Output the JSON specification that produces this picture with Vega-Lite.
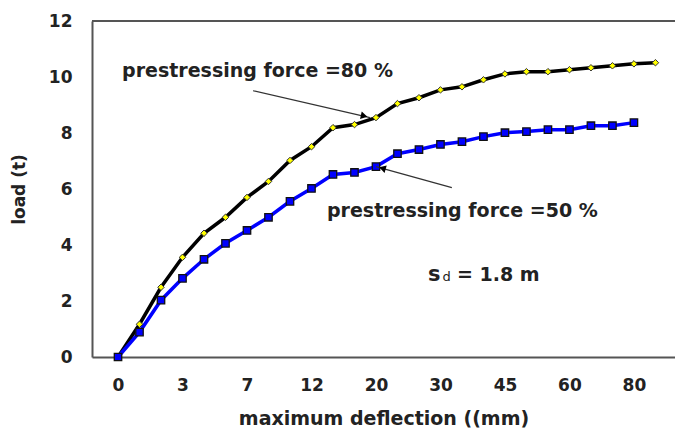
{
  "$schema": "https://vega.github.io/schema/vega-lite/v6.json",
  "width": 583,
  "height": 336,
  "autosize": {"type": "none"},
  "padding": {"left": 92, "top": 21, "right": 0, "bottom": 74},
  "background": "#ffffff",
  "config": {"view": {"stroke": null}, "font": "DejaVu Sans"},
  "datasets": {
    "curves": [
      {"reading": 0, "force": "80 %", "load": 0},
      {"reading": 1, "force": "80 %", "load": 1.17},
      {"reading": 2, "force": "80 %", "load": 2.49},
      {"reading": 3, "force": "80 %", "load": 3.56},
      {"reading": 4, "force": "80 %", "load": 4.42},
      {"reading": 5, "force": "80 %", "load": 4.99},
      {"reading": 6, "force": "80 %", "load": 5.70},
      {"reading": 7, "force": "80 %", "load": 6.27},
      {"reading": 8, "force": "80 %", "load": 7.02},
      {"reading": 9, "force": "80 %", "load": 7.51},
      {"reading": 10, "force": "80 %", "load": 8.19},
      {"reading": 11, "force": "80 %", "load": 8.30},
      {"reading": 12, "force": "80 %", "load": 8.55},
      {"reading": 13, "force": "80 %", "load": 9.05},
      {"reading": 14, "force": "80 %", "load": 9.26},
      {"reading": 15, "force": "80 %", "load": 9.54},
      {"reading": 16, "force": "80 %", "load": 9.65},
      {"reading": 17, "force": "80 %", "load": 9.90},
      {"reading": 18, "force": "80 %", "load": 10.11},
      {"reading": 19, "force": "80 %", "load": 10.19},
      {"reading": 20, "force": "80 %", "load": 10.19},
      {"reading": 21, "force": "80 %", "load": 10.26},
      {"reading": 22, "force": "80 %", "load": 10.33},
      {"reading": 23, "force": "80 %", "load": 10.40},
      {"reading": 24, "force": "80 %", "load": 10.47},
      {"reading": 25, "force": "80 %", "load": 10.51},
      {"reading": 0, "force": "50 %", "load": 0},
      {"reading": 1, "force": "50 %", "load": 0.89},
      {"reading": 2, "force": "50 %", "load": 2.03},
      {"reading": 3, "force": "50 %", "load": 2.81},
      {"reading": 4, "force": "50 %", "load": 3.49},
      {"reading": 5, "force": "50 %", "load": 4.06},
      {"reading": 6, "force": "50 %", "load": 4.52},
      {"reading": 7, "force": "50 %", "load": 4.99},
      {"reading": 8, "force": "50 %", "load": 5.56},
      {"reading": 9, "force": "50 %", "load": 6.02},
      {"reading": 10, "force": "50 %", "load": 6.52},
      {"reading": 11, "force": "50 %", "load": 6.59},
      {"reading": 12, "force": "50 %", "load": 6.80},
      {"reading": 13, "force": "50 %", "load": 7.26},
      {"reading": 14, "force": "50 %", "load": 7.41},
      {"reading": 15, "force": "50 %", "load": 7.59},
      {"reading": 16, "force": "50 %", "load": 7.69},
      {"reading": 17, "force": "50 %", "load": 7.87},
      {"reading": 18, "force": "50 %", "load": 8.01},
      {"reading": 19, "force": "50 %", "load": 8.05},
      {"reading": 20, "force": "50 %", "load": 8.12},
      {"reading": 21, "force": "50 %", "load": 8.12},
      {"reading": 22, "force": "50 %", "load": 8.26},
      {"reading": 23, "force": "50 %", "load": 8.26},
      {"reading": 24, "force": "50 %", "load": 8.37}
    ],
    "labels": [
      {"text": "prestressing force =80 %", "reading": 0.19, "load": 10.22},
      {"text": "prestressing force =50 %", "reading": 9.72, "load": 5.2}
    ],
    "leaders": [
      {"id": "a", "reading": 6.28, "load": 9.51},
      {"id": "a", "reading": 11.72, "load": 8.55},
      {"id": "b", "reading": 12.0, "load": 6.8},
      {"id": "b", "reading": 15.53, "load": 6.05}
    ],
    "heads": [
      {"reading": 11.45, "load": 8.61, "dir": 13, "shape": "triangle-right"},
      {"reading": 12.3, "load": 6.74, "dir": 16, "shape": "triangle-left"}
    ]
  },
  "layer": [
    {
      "data": {"values": [{"top": 12}]},
      "mark": {"type": "rule", "color": "#555555", "strokeWidth": 2},
      "encoding": {"y": {"field": "top", "type": "quantitative", "scale": {"domain": [0, 12]}}}
    },
    {
      "data": {"name": "curves"},
      "mark": {"type": "line", "strokeWidth": 3.5},
      "encoding": {
        "x": {
          "field": "reading", "type": "quantitative",
          "scale": {"domain": [-1.21, 25.91], "nice": false, "zero": false},
          "axis": {
            "title": "maximum deflection ((mm)",
            "values": [0, 3, 6, 9, 12, 15, 18, 21, 24],
            "labelExpr": "['0','','','3','','','7','','','12','','','20','','','30','','','45','','','60','','','80'][datum.value]",
            "grid": false, "ticks": false, "tickSize": 0,
            "domainColor": "#555555", "domainWidth": 2,
            "labelFont": "DejaVu Sans", "labelFontWeight": "bold", "labelFontSize": 17, "labelColor": "#222222",
            "labelPadding": 20,
            "titleFont": "DejaVu Sans", "titleFontWeight": "bold", "titleFontSize": 19, "titleColor": "#222222",
            "titlePadding": 16
          }
        },
        "y": {
          "field": "load", "type": "quantitative",
          "scale": {"domain": [0, 12], "nice": false},
          "axis": {
            "title": "load (t)",
            "values": [0, 2, 4, 6, 8, 10, 12],
            "grid": false, "ticks": false, "tickSize": 0,
            "domainColor": "#555555", "domainWidth": 2,
            "labelFont": "DejaVu Sans", "labelFontWeight": "bold", "labelFontSize": 17, "labelColor": "#222222",
            "labelPadding": 20,
            "titleFont": "DejaVu Sans", "titleFontWeight": "bold", "titleFontSize": 17, "titleColor": "#222222",
            "titlePadding": 20
          }
        },
        "color": {"field": "force", "type": "nominal", "scale": {"domain": ["80 %", "50 %"], "range": ["#000000", "#0000ff"]}, "legend": null},
        "detail": {"field": "force"}
      }
    },
    {
      "data": {"name": "curves"},
      "transform": [{"filter": "datum.force == '80 %'"}],
      "mark": {"type": "point", "shape": "diamond", "filled": true, "fill": "#ffff00", "stroke": "#333333", "strokeWidth": 1, "size": 42, "opacity": 1},
      "encoding": {
        "x": {"field": "reading", "type": "quantitative"},
        "y": {"field": "load", "type": "quantitative"}
      }
    },
    {
      "data": {"name": "curves"},
      "transform": [{"filter": "datum.force == '50 %'"}],
      "mark": {"type": "point", "shape": "square", "filled": true, "fill": "#0000ff", "stroke": "#111111", "strokeWidth": 1.3, "size": 55, "opacity": 1},
      "encoding": {
        "x": {"field": "reading", "type": "quantitative"},
        "y": {"field": "load", "type": "quantitative"}
      }
    },
    {
      "data": {"name": "leaders"},
      "mark": {"type": "line", "color": "#333333", "strokeWidth": 1.2},
      "encoding": {
        "x": {"field": "reading", "type": "quantitative"},
        "y": {"field": "load", "type": "quantitative"},
        "detail": {"field": "id"}
      }
    },
    {
      "data": {"name": "heads"},
      "mark": {"type": "point", "filled": true, "color": "#000000", "size": 60, "opacity": 1},
      "encoding": {
        "x": {"field": "reading", "type": "quantitative"},
        "y": {"field": "load", "type": "quantitative"},
        "shape": {"field": "shape", "type": "nominal", "scale": null},
        "angle": {"field": "dir", "type": "quantitative", "scale": null}
      }
    },
    {
      "data": {"name": "labels"},
      "mark": {"type": "text", "align": "left", "baseline": "middle", "font": "DejaVu Sans", "fontWeight": "bold", "fontSize": 19, "color": "#222222"},
      "encoding": {
        "x": {"field": "reading", "type": "quantitative"},
        "y": {"field": "load", "type": "quantitative"},
        "text": {"field": "text"}
      }
    },
    {
      "data": {"values": [{"reading": 14.42, "load": 2.92, "text": "s"}]},
      "mark": {"type": "text", "align": "left", "baseline": "middle", "font": "DejaVu Sans", "fontWeight": "bold", "fontSize": 21, "color": "#222222"},
      "encoding": {
        "x": {"field": "reading", "type": "quantitative"},
        "y": {"field": "load", "type": "quantitative"},
        "text": {"field": "text"}
      }
    },
    {
      "data": {"values": [{"reading": 15.1, "load": 2.85, "text": "d"}]},
      "mark": {"type": "text", "align": "left", "baseline": "middle", "font": "DejaVu Sans", "fontWeight": "normal", "fontSize": 13, "color": "#222222"},
      "encoding": {
        "x": {"field": "reading", "type": "quantitative"},
        "y": {"field": "load", "type": "quantitative"},
        "text": {"field": "text"}
      }
    },
    {
      "data": {"values": [{"reading": 15.77, "load": 2.92, "text": "= 1.8 m"}]},
      "mark": {"type": "text", "align": "left", "baseline": "middle", "font": "DejaVu Sans", "fontWeight": "bold", "fontSize": 19, "color": "#222222"},
      "encoding": {
        "x": {"field": "reading", "type": "quantitative"},
        "y": {"field": "load", "type": "quantitative"},
        "text": {"field": "text"}
      }
    }
  ]
}
